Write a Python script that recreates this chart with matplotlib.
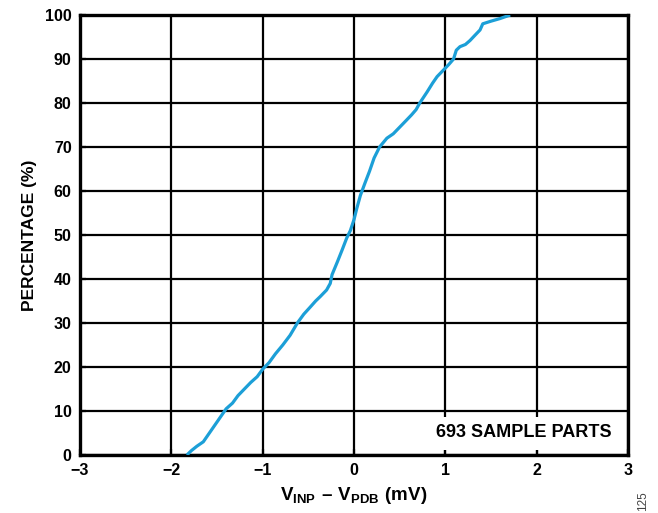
import numpy as np
import matplotlib
matplotlib.use("Agg")
import matplotlib.pyplot as plt
from matplotlib.patches import Rectangle

# Cumulative distribution (mV, %)
offset_mv = [-1.83, -1.78, -1.72, -1.65, -1.60, -1.55, -1.50, -1.45, -1.40, -1.33,
             -1.27, -1.20, -1.13, -1.06, -1.00, -0.93, -0.86, -0.78, -0.70, -0.62,
             -0.55, -0.48, -0.42, -0.37, -0.30, -0.26, -0.24, -0.18, -0.13, -0.08,
             -0.04, 0.00, 0.03, 0.07, 0.12, 0.17, 0.22, 0.28, 0.36, 0.43,
             0.50, 0.57, 0.63, 0.68, 0.72, 0.80, 0.86, 0.91, 0.98, 1.04,
             1.09, 1.12, 1.16, 1.22, 1.27, 1.32, 1.38, 1.41, 1.50, 1.60, 1.71]
percentage = [0.0, 1.0, 2.0, 3.0, 4.5, 6.0, 7.5, 9.0, 10.5, 11.8,
              13.5, 15.0, 16.5, 17.8, 19.5, 21.0, 23.0, 25.0, 27.2, 30.0,
              32.0, 33.6, 35.0, 36.0, 37.5, 39.0, 41.0, 44.0, 46.6, 49.3,
              51.0, 53.5, 56.0, 59.0, 61.8, 64.5, 67.5, 70.0, 72.0, 73.0,
              74.5, 76.0, 77.3, 78.5, 80.0, 82.5, 84.5, 86.0, 87.5, 88.8,
              90.0, 92.0, 92.8, 93.3, 94.2, 95.3, 96.6, 98.0, 98.6, 99.2, 100.0]

x_ticks = [-3, -2, -1, 0, 1, 2, 3]
x_tick_labels = ['\u22123', '\u22122', '\u22121', '0', '1', '2', '3']
y_ticks = list(range(0, 101, 10))

plt.rcParams['font.family'] = ['Liberation Sans', 'DejaVu Sans']
plt.rcParams['mathtext.fontset'] = 'custom'
plt.rcParams['mathtext.rm'] = 'Liberation Sans:bold'
plt.rcParams['mathtext.bf'] = 'Liberation Sans:bold'

fig = plt.figure(figsize=(6.58, 5.13), dpi=100)
ax = fig.add_axes([80 / 658, 1 - 455 / 513, 548 / 658, 440 / 513])

ax.plot(offset_mv, percentage, color='#1C9FD7', linewidth=2.3, zorder=3,
        solid_capstyle='butt')

ax.set_xlim(-3, 3)
ax.set_ylim(0, 100)
ax.set_xticks(x_ticks)
ax.set_xticklabels(x_tick_labels)
ax.set_yticks(y_ticks)
ax.grid(True, color='black', linewidth=1.6)
ax.set_axisbelow(False)
for s in ax.spines.values():
    s.set_linewidth(2.4)
ax.tick_params(direction='in', length=4, width=1.6, pad=6, labelsize=11.5)
for lbl in ax.get_xticklabels() + ax.get_yticklabels():
    lbl.set_fontweight('bold')

ax.set_ylabel('PERCENTAGE (%)', fontsize=12.5, fontweight='bold', labelpad=6)
ax.set_xlabel('$\\mathrm{V_{INP}\\ \u2013\\ V_{PDB}\\ (mV)}$', fontsize=13.5, labelpad=5)

# white label box hides the grid behind the annotation
ax.add_patch(Rectangle((0.55, 1.2), 2.43, 7.4, facecolor='white',
                       edgecolor='none', zorder=2.7))
ax.text(0.97, 0.052, '693 SAMPLE PARTS', transform=ax.transAxes, ha='right',
        va='center', fontsize=13, fontweight='bold', zorder=4)

fig.text(643 / 658, 1 - 501 / 513, '125', rotation=90, ha='center', va='center',
         fontsize=8.5, color='#444444')

fig.savefig('out.png', dpi=100)
